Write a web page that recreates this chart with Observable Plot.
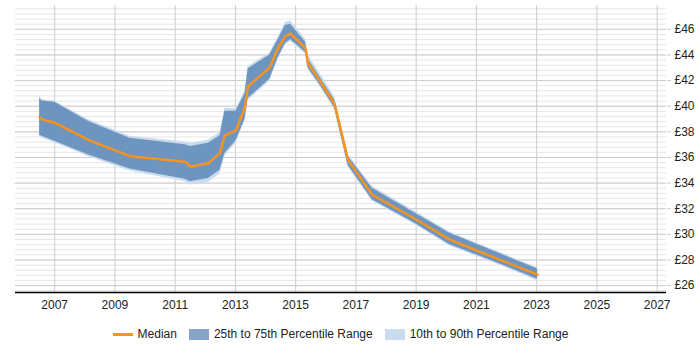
<!DOCTYPE html>
<html>
<head>
<meta charset="utf-8">
<script src="https://cdn.jsdelivr.net/npm/d3@7"></script>
<script src="https://cdn.jsdelivr.net/npm/@observablehq/plot@0.6"></script>
<style>
  body { margin: 0; background: #fff; font-family: "Liberation Sans", Arial, sans-serif; }
  #chart svg { display: block; }
  #legend { position: relative; width: 651px; margin-left: 15px; margin-top: 6px; height: 20px; display: flex; justify-content: center; align-items: center; font-size: 12px; color: #222; }
  .item { display: flex; align-items: center; margin: 0 6px; }
  .sw-line { width: 20px; height: 3px; background: #f7931e; margin-right: 5px; }
  .sw-box { width: 20px; height: 11px; margin-right: 5px; }
</style>
</head>
<body>
<div id="chart"></div>
<div id="legend">
  <div class="item"><div class="sw-line"></div><span>Median</span></div>
  <div class="item"><div class="sw-box" style="background:#85a6c9"></div><span>25th to 75th Percentile Range</span></div>
  <div class="item"><div class="sw-box" style="background:#c9dcee"></div><span>10th to 90th Percentile Range</span></div>
</div>
<script>
const years  = [2006.5, 2006.58, 2007.0, 2008.13, 2009.5, 2011.33, 2011.5, 2012.1, 2012.49, 2012.65, 2013.02, 2013.32, 2013.42, 2014.14, 2014.42, 2014.66, 2014.83, 2015.33, 2015.41, 2015.8, 2016.29, 2016.74, 2017.54, 2019.0, 2020.1, 2020.99, 2021.87, 2023.03];
const median = [39.15, 38.97, 38.71, 37.35, 36.1, 35.67, 35.28, 35.54, 36.36, 37.73, 38.12, 39.98, 41.55, 43.02, 44.56, 45.47, 45.67, 44.51, 43.35, 41.99, 40.18, 35.79, 33.09, 31.16, 29.61, 28.76, 27.93, 26.85];
const p75    = [40.6, 40.4, 40.3, 38.8, 37.5, 37.0, 36.85, 37.1, 37.7, 39.6, 39.6, 41.0, 42.9, 44.0, 45.2, 46.3, 46.4, 45.0, 43.7, 42.3, 40.5, 36.1, 33.6, 31.6, 30.1, 29.25, 28.4, 27.3];
const p25    = [37.73, 37.65, 37.27, 36.2, 35.1, 34.3, 34.1, 34.35, 35.0, 36.3, 37.3, 39.0, 40.6, 42.1, 43.8, 44.9, 45.2, 44.2, 43.0, 41.7, 39.9, 35.4, 32.7, 30.8, 29.2, 28.4, 27.6, 26.5];
const p90    = [40.8, 40.5, 40.4, 38.95, 37.65, 37.2, 37.1, 37.35, 37.95, 39.85, 39.8, 41.2, 43.1, 44.15, 45.4, 46.55, 46.65, 45.25, 44.0, 42.6, 40.75, 36.25, 33.75, 31.75, 30.2, 29.35, 28.5, 27.4];
const p10    = [37.6, 37.5, 37.15, 36.05, 34.95, 34.1, 33.85, 34.05, 34.7, 36.1, 37.1, 38.85, 40.45, 41.95, 43.65, 44.75, 45.05, 44.05, 42.85, 41.55, 39.75, 35.25, 32.6, 30.7, 29.1, 28.3, 27.5, 26.35];
const xTicks = [2007, 2009, 2011, 2013, 2015, 2017, 2019, 2021, 2023, 2025, 2027];
const yTicks = [26, 28, 30, 32, 34, 36, 38, 40, 42, 44, 46];

const data = years.map((y, i) => ({year: y, median: median[i], p10: p10[i], p25: p25[i], p75: p75[i], p90: p90[i]}));
const minorY = d3.range(25.6, 47.9, 0.4).map(v => +v.toFixed(1));

const chart = Plot.plot({
  width: 700,
  height: 318,
  marginLeft: 15,
  marginRight: 34,
  marginTop: 5,
  marginBottom: 26,
  style: {fontFamily: "Liberation Sans, Arial, sans-serif", fontSize: "12px", color: "#222", background: "#fff"},
  x: {domain: [2005.7, 2027.31]},
  y: {domain: [25.46, 47.86]},
  marks: [
    Plot.ruleY(minorY, {stroke: "#e6e6e6", strokeWidth: 1}),
    Plot.ruleY(yTicks, {stroke: "#cccccc", strokeWidth: 1}),
    Plot.ruleX(xTicks, {stroke: "#cccccc", strokeWidth: 1}),
    Plot.areaY(data, {x: "year", y1: "p10", y2: "p90", fill: "#c9dcee"}),
    Plot.areaY(data, {x: "year", y1: "p25", y2: "p75", fill: "#6e95c0"}),
    Plot.lineY(data, {x: "year", y: "median", stroke: "#f7931e", strokeWidth: 2.5}),
    Plot.axisX({ticks: xTicks, tickFormat: d => String(d), tickSize: 0, tickPadding: 8, label: null}),
    Plot.axisY({ticks: yTicks, anchor: "right", tickFormat: d => "£" + d, tickSize: 4, tickPadding: 4, label: null, stroke: "#ccc"}),
    Plot.ruleY([25.46], {stroke: "#000", strokeWidth: 1.5})
  ]
});
document.getElementById("chart").appendChild(chart);
</script>
</body>
</html>
